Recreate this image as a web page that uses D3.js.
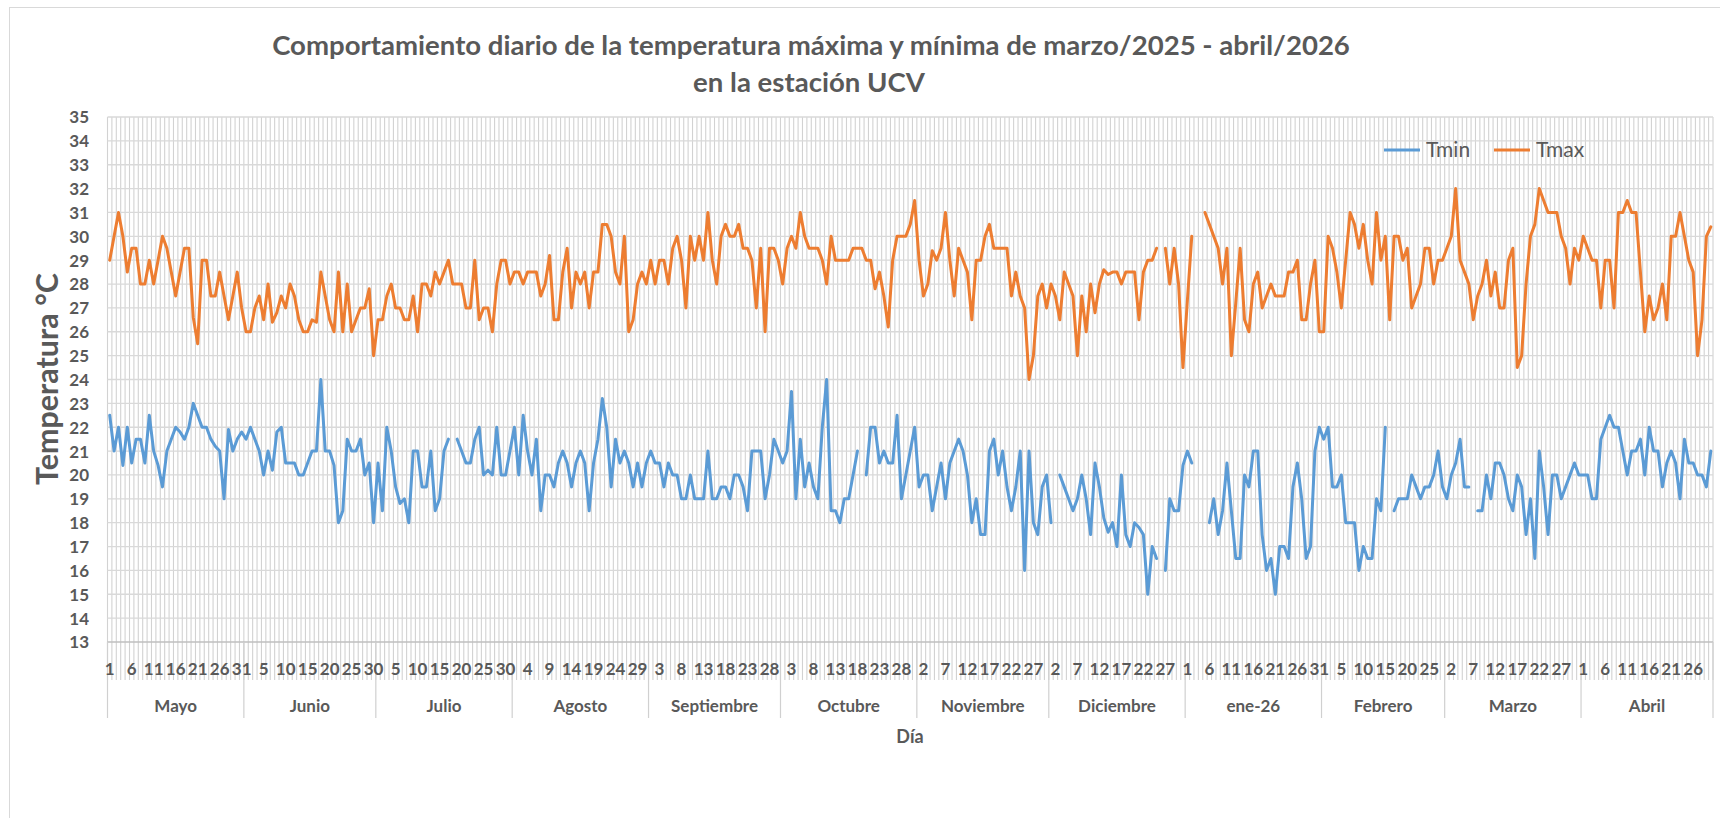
<!DOCTYPE html>
<html>
<head>
<meta charset="utf-8">
<script src="https://cdn.jsdelivr.net/npm/d3@7"></script>
<style>
html,body{margin:0;padding:0;background:#fff;}
svg{display:block;}
text{font-family:Lato,"Open Sans",sans-serif;fill:#595959;}
</style>
</head>
<body>
<svg id="chart" width="1720" height="818"></svg>
<script>
// ---------- DATA ----------
const months = ["Mayo","Junio","Julio","Agosto","Septiembre","Octubre","Noviembre","Diciembre","ene-26","Febrero","Marzo","Abril"];
const monthDays = [31,30,31,31,30,31,30,31,31,28,31,30];
const yTicks = [13,14,15,16,17,18,19,20,21,22,23,24,25,26,27,28,29,30,31,32,33,34,35];
const seriesNames = ["Tmin","Tmax"];

const tmax = [
 // Mayo
 29,30,31,30,28.5,29.5,29.5,28,28,29,28,29,30,29.5,28.5,27.5,28.5,29.5,29.5,26.6,25.5,29,29,27.5,27.5,28.5,27.5,26.5,27.5,28.5,27,
 // Junio
 26,26,27,27.5,26.5,28,26.4,26.8,27.5,27,28,27.5,26.5,26,26,26.5,26.4,28.5,27.5,26.5,26,28.5,26,28,26,26.5,27,27,27.8,25,
 // Julio
 26.5,26.5,27.5,28,27,27,26.5,26.5,27.5,26,28,28,27.5,28.5,28,28.5,29,28,28,28,27,27,29,26.5,27,27,26,28,29,29,28,
 // Agosto
 28.5,28.5,28,28.5,28.5,28.5,27.5,28,29.2,26.5,26.5,28.5,29.5,27,28.5,28,28.5,27,28.5,28.5,30.5,30.5,30,28.5,28,30,26,26.5,28,28.5,28,
 // Septiembre
 29,28,29,29,28,29.5,30,29,27,30,29,30,29,31,29,28,30,30.5,30,30,30.5,29.5,29.5,29,27,29.5,26,29.5,29.5,29,
 // Octubre
 28,29.5,30,29.5,31,30,29.5,29.5,29.5,29,28,30,29,29,29,29,29.5,29.5,29.5,29,29,27.8,28.5,27.5,26.2,29,30,30,30,30.5,31.5,
 // Noviembre
 29,27.5,28,29.4,29,29.5,31,29,27.5,29.5,29,28.5,26.5,29,29,30,30.5,29.5,29.5,29.5,29.5,27.5,28.5,27.5,27,24,25,27.5,28,27,
 // Diciembre
 28,27.5,26.5,28.5,28,27.5,25,27.5,26,28,26.8,28,28.6,28.4,28.5,28.5,28,28.5,28.5,28.5,26.5,28.5,29,29,29.5,null,29.5,28,29.5,28,24.5,
 // Enero
 27.3,30,null,null,31,30.5,30,29.5,28,29.5,25,27.2,29.5,26.5,26,28,28.5,27,27.5,28,27.5,27.5,27.5,28.5,28.5,29,26.5,26.5,28,29,26,
 // Febrero
 26,30,29.5,28.5,27,29,31,30.5,29.5,30.5,29,28,31,29,30,26.5,30,30,29,29.5,27,27.5,28,29.5,29.5,28,29,29,
 // Marzo
 29.5,30,32,29,28.5,28,26.5,27.5,28,29,27.5,28.5,27,27,29,29.5,24.5,25,28,30,30.5,32,31.5,31,31,31,30,29.5,28,29.5,29,
 // Abril
 30,29.5,29,29,27,29,29,27,31,31,31.5,31,31,28.5,26,27.5,26.5,27,28,26.5,30,30,31,30,29,28.5,25,26.5,30,30.4
];

const tmin = [
 // Mayo
 22.5,21,22,20.4,22,20.5,21.5,21.5,20.5,22.5,21,20.4,19.5,21,21.5,22,21.8,21.5,22,23,22.5,22,22,21.5,21.2,21,19,21.9,21,21.5,21.8,
 // Junio
 21.5,22,21.5,21,20,21,20.2,21.8,22,20.5,20.5,20.5,20,20,20.5,21,21,24,21,21,20.4,18,18.5,21.5,21,21,21.5,20,20.5,18,
 // Julio
 20.5,18.5,22,21,19.5,18.8,19,18,21,21,19.5,19.5,21,18.5,19,21,21.5,null,21.5,21,20.5,20.5,21.5,22,20,20.2,20,22,20,20,21,
 // Agosto
 22,20,22.5,21,20,21.5,18.5,20,20,19.5,20.5,21,20.5,19.5,20.5,21,20.5,18.5,20.5,21.5,23.2,22,19.5,21.5,20.5,21,20.5,19.5,20.5,19.5,20.5,
 // Septiembre
 21,20.5,20.5,19.5,20.5,20,20,19,19,20,19,19,19,21,19,19,19.5,19.5,19,20,20,19.5,18.5,21,21,21,19,20,21.5,21,
 // Octubre
 20.5,21,23.5,19,21.5,19.5,20.5,19.5,19,22,24,18.5,18.5,18,19,19,20,21,null,20,22,22,20.5,21,20.5,20.5,22.5,19,20,21,22,
 // Noviembre
 19.5,20,20,18.5,19.5,20.5,19,20.5,21,21.5,21,20,18,19,17.5,17.5,21,21.5,20,21,19.5,18.5,19.5,21,16,21,18,17.5,19.5,20,
 // Diciembre
 18,null,20,19.5,19,18.5,19,20,19,17.5,20.5,19.5,18.2,17.6,18,17,20,17.5,17,18,17.8,17.5,15,17,16.5,null,16,19,18.5,18.5,20.4,
 // Enero
 21,20.5,null,null,null,18,19,17.5,18.5,20.5,18.5,16.5,16.5,20,19.5,21,21,17.5,16,16.5,15,17,17,16.5,19.5,20.5,19,16.5,17,21,22,
 // Febrero
 21.5,22,19.5,19.5,20,18,18,18,16,17,16.5,16.5,19,18.5,22,null,18.5,19,19,19,20,19.5,19,19.5,19.5,20,21,19.5,
 // Marzo
 19,20,20.5,21.5,19.5,19.5,null,18.5,18.5,20,19,20.5,20.5,20,19,18.5,20,19.5,17.5,19,16.5,21,19.5,17.5,20,20,19,19.5,20,20.5,20,
 // Abril
 20,20,19,19,21.5,22,22.5,22,22,21,20,21,21,21.5,20,22,21,21,19.5,20.5,21,20.5,19,21.5,20.5,20.5,20,20,19.5,21
];

// ---------- LAYOUT ----------
const W = 1720, H = 818;
const plot = {left: 107.5, right: 1713, top: 117, bottom: 642};
const colors = {Tmin: "#5B9BD5", Tmax: "#ED7D31"};
const grid = "#D9D9D9";
const vgrid = "#D2D2D2";

const svg = d3.select("#chart");
const N = tmax.length;
const idx = d3.range(N);

const x = d3.scaleBand().domain(idx).range([plot.left, plot.right]).padding(0);
const bw = x.bandwidth();
const y = d3.scaleLinear().domain([13, 35]).range([plot.bottom, plot.top]);

function fitWidth(sel, target) {
  const node = sel.node();
  const fs = parseFloat(sel.attr("font-size"));
  const w = node.getComputedTextLength();
  if (w > 0) sel.attr("font-size", (fs * target / w).toFixed(2));
}

// chart border
svg.append("rect").attr("x", 9.5).attr("y", 7.5).attr("width", W + 20).attr("height", H + 20)
  .attr("fill", "none").attr("stroke", grid).attr("stroke-width", 1);

// month start indices
const monthStart = [];
let acc = 0;
monthDays.forEach(d => { monthStart.push(acc); acc += d; });
const dayOfMonth = idx.map(i => {
  let m = d3.bisectRight(monthStart, i) - 1;
  return i - monthStart[m] + 1;
});

// vertical gridlines (category boundaries) + tick hatch
const gV = svg.append("g");
d3.range(N + 1).forEach(i => {
  const xx = i < N ? x(i) : plot.right;
  gV.append("line").attr("x1", xx).attr("x2", xx).attr("y1", plot.top).attr("y2", 680)
    .attr("stroke", vgrid).attr("stroke-width", 1.1);
});

// horizontal gridlines
const gH = svg.append("g");
yTicks.forEach(t => {
  gH.append("line").attr("x1", plot.left).attr("x2", plot.right).attr("y1", y(t)).attr("y2", y(t))
    .attr("stroke", t === 13 ? "#BFBFBF" : grid).attr("stroke-width", 1.3);
});

// month separators
monthStart.concat([N]).forEach(s => {
  const xx = s < N ? x(s) : plot.right;
  svg.append("line").attr("x1", xx).attr("x2", xx).attr("y1", plot.bottom).attr("y2", 718)
    .attr("stroke", "#D0D0D0").attr("stroke-width", 1.2);
});

// y axis
const yAxis = d3.axisLeft(y).tickValues(yTicks).tickSize(0).tickPadding(0);
const gy = svg.append("g").attr("transform", `translate(89,0)`).call(yAxis);
gy.select(".domain").remove();
gy.selectAll("text").attr("font-family", "Lato").attr("font-weight", "bold")
  .attr("font-size", 17).attr("fill", "#595959").attr("dy", "0.35em");

// x axis (day numbers every 5 categories)
const xAxis = d3.axisBottom(x).tickValues(idx.filter(i => i % 5 === 0))
  .tickFormat(i => dayOfMonth[i]).tickSize(0).tickPadding(0);
const gx = svg.append("g").attr("transform", `translate(0,669)`).call(xAxis);
gx.select(".domain").remove();
gx.selectAll("text").attr("font-family", "Lato").attr("font-weight", "bold")
  .attr("font-size", 17).attr("fill", "#595959").attr("dy", "0.35em");

// month labels
months.forEach((m, k) => {
  const a = x(monthStart[k]);
  const b = k < months.length - 1 ? x(monthStart[k + 1]) : plot.right;
  svg.append("text").attr("x", (a + b) / 2).attr("y", 706).attr("dy", "0.35em")
    .attr("text-anchor", "middle").attr("font-weight", "bold").attr("font-size", 17).text(m);
});

// lines
const line = d3.line().defined(v => v != null)
  .x((v, i) => x(i) + bw / 2).y(v => y(v));
[["Tmin", tmin], ["Tmax", tmax]].forEach(([name, data]) => {
  svg.append("path").datum(data).attr("d", line).attr("fill", "none")
    .attr("stroke", colors[name]).attr("stroke-width", 3)
    .attr("stroke-linejoin", "round").attr("stroke-linecap", "round");
});

// title
const t1 = svg.append("text").attr("x", 811).attr("y", 55).attr("text-anchor", "middle")
  .attr("font-weight", "bold").attr("font-size", 22)
  .text("Comportamiento diario de la temperatura máxima y mínima de marzo/2025 - abril/2026");
fitWidth(t1, 1078);
const t2 = svg.append("text").attr("x", 809).attr("y", 92).attr("text-anchor", "middle")
  .attr("font-weight", "bold").attr("font-size", t1.attr("font-size"))
  .text("en la estación UCV");

// axis titles
const yt = svg.append("text").attr("transform", "translate(47,379) rotate(-90)")
  .attr("text-anchor", "middle").attr("dy", "0.35em").attr("font-weight", "bold").attr("font-size", 20)
  .text("Temperatura °C");
fitWidth(yt, 212);
svg.append("text").attr("x", 910).attr("y", 737).attr("dy", "0.35em").attr("text-anchor", "middle")
  .attr("font-weight", "bold").attr("font-size", 18).text("Día");

// legend
const legend = svg.append("g");
const legPos = [{name: "Tmin", x: 1384}, {name: "Tmax", x: 1494}];
legPos.forEach(p => {
  legend.append("line").attr("x1", p.x).attr("x2", p.x + 36).attr("y1", 150).attr("y2", 150)
    .attr("stroke", colors[p.name]).attr("stroke-width", 3);
  legend.append("text").attr("x", p.x + 42).attr("y", 150).attr("dy", "0.35em")
    .attr("font-size", 21).text(p.name);
});
</script>
</body>
</html>
